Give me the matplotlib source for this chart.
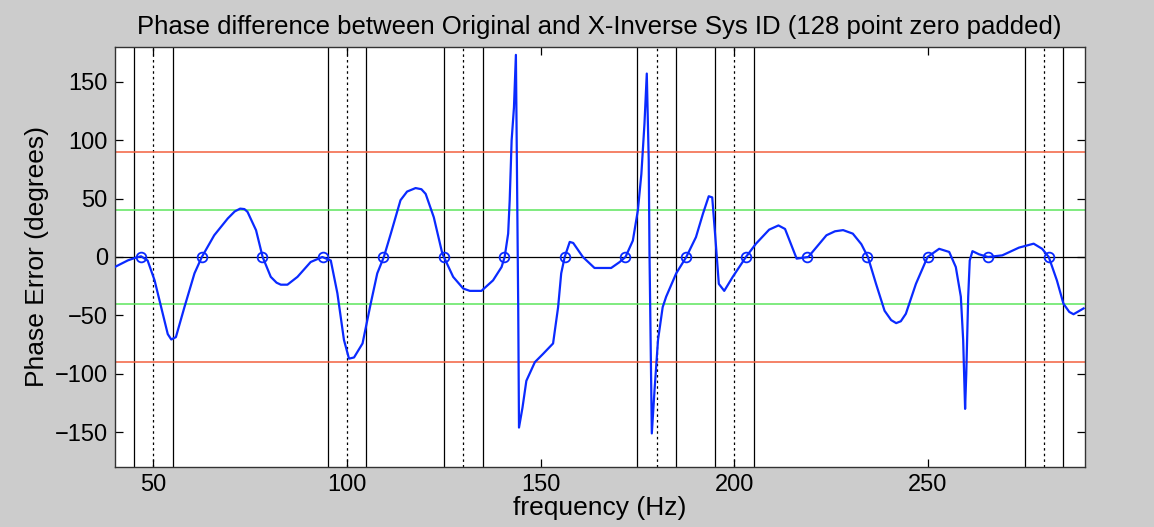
import numpy as np
import matplotlib
matplotlib.use('Agg')
import matplotlib.pyplot as plt

plt.rcParams['font.family'] = ['Liberation Sans', 'DejaVu Sans']

# phase error curve (Hz, degrees)
freq = [40.0, 43.4, 45.5, 46.8, 48.5, 50.3, 52.0, 53.7, 54.6, 55.8, 58.0, 60.6, 62.5, 65.7, 69.2, 71.0, 72.4,
        73.5, 74.3, 76.5, 78.2, 80.3, 81.8, 82.9, 84.6, 87.2, 90.6, 93.6, 95.8, 97.5, 99.2, 100.5, 101.8, 104.0,
        106.1, 107.8, 109.5, 111.3, 113.8, 115.5, 117.7, 119.2, 120.3, 122.4, 124.6, 127.4, 130.0, 131.7, 134.7,
        137.7, 139.9, 140.7, 141.6, 142.0, 142.5, 143.1, 143.6, 143.9, 144.2, 144.4, 145.3, 146.3,
        148.5, 150.6, 153.2, 154.5, 155.3, 156.2, 157.5, 158.4, 160.9, 163.9, 168.2, 170.4, 171.9,
        173.8, 175.1, 176.0, 176.8, 177.4, 177.9, 178.1, 178.4, 178.7, 179.4, 180.3, 181.5, 182.4,
        185.0, 187.6, 190.1, 191.9, 193.4, 194.3, 195.1, 196.0, 197.4, 199.6, 203.0, 205.6, 209.0,
        211.4, 213.1, 216.1, 219.1, 223.8, 226.0, 228.1, 230.6, 232.8, 234.5, 236.6, 238.8, 240.5, 241.8, 243.0,
        244.3, 246.9, 249.9, 252.9, 255.5, 257.2, 258.5, 259.1, 259.6, 259.9, 260.4, 260.8, 261.5, 263.2,
        265.5, 269.2, 273.5, 277.3, 279.5, 281.2, 283.3, 285.0, 286.5, 287.6, 290.2]
phase_err = [-8.6, -2.9, -0.5, 0.6, -3, -20, -43, -66, -70.6, -68.6, -43, -14, 0, 18.6, 33, 39, 41.4,
             41, 38.6, 22.9, 0, -17, -22, -23.7, -23.7, -17, -4.3, 0, -3, -31, -71, -87, -86, -74,
             -40, -14, 0, 20, 48.6, 56, 59, 58, 54, 34, 2.9, -17, -27, -29, -29,
             -20, -8.6, 0, 20, 48.6, 100, 128, 173, 66, -43, -146, -129, -106,
             -90, -83, -74, -43, -14, 0, 12.9, 12, 0, -9.4, -9.4, -4.3, 0,
             14, 40, 71, 114, 157, 83, 3, -71, -151, -114, -71, -43, -34,
             -14, 0, 17, 37, 52, 51, 17, -23, -29, -17, 0, 11.4, 23.4,
             27, 24, -1.4, 0, 18.6, 22, 23, 20, 11, 0, -23, -46, -54, -56.6, -55,
             -48.6, -23, 0, 7, 4.3, -8.6, -34, -71, -130, -100, -34, -3, 5, 2.3,
             0, 1.4, 8, 11.4, 7, 0, -20, -40, -47, -49, -44]

# zero crossing markers (frequency bins)
bin_freqs = [46.875, 62.5, 78.125, 93.75, 109.375, 125.0, 140.625, 156.25, 171.875,
             187.5, 203.125, 218.75, 234.375, 250.0, 265.625, 281.25]

# band centres (dotted) and edges (solid)
band_centres = [50, 100, 130, 180, 200, 280]
band_half = 5

fig = plt.figure(figsize=(11.54, 5.27), dpi=100, facecolor='#cccccc')
ax = fig.add_axes([0.0994, 0.1133, 0.8406, 0.7981])
ax.set_facecolor('white')

for c in band_centres:
    ax.axvline(c - band_half, color='black', lw=0.9, zorder=1)
    ax.axvline(c + band_half, color='black', lw=0.9, zorder=1)
    ax.axvline(c, color='black', lw=0.9, ls=(0, (2, 2.5)), zorder=1)

ax.axhline(0, color='black', lw=0.9, zorder=1)
for lvl in [90, -90]:
    ax.axhline(lvl, color='#f2603e', lw=1.1, zorder=1)
for lvl in [40, -40]:
    ax.axhline(lvl, color='#5ce65c', lw=1.1, zorder=1)

ax.plot(freq, phase_err, color='#0a2aff', lw=1.6, zorder=3)
ax.plot(bin_freqs, np.zeros(len(bin_freqs)), 'o', mfc='none', mec='#0a2aff', ms=7, mew=1.3, zorder=4)

ax.set_xlim(40, 290.5)
ax.set_ylim(-180, 180)
ax.set_xticks([50, 100, 150, 200, 250])
ax.set_yticks([-150, -100, -50, 0, 50, 100, 150])
ax.tick_params(direction='in', length=6, width=0.9, top=True, right=True, labelsize=17, pad=5)
for s in ax.spines.values():
    s.set_linewidth(1.0)
    s.set_color('#333333')

ax.set_xlabel('frequency (Hz)', fontsize=19, labelpad=0)
ax.set_ylabel('Phase Error (degrees)', fontsize=19, labelpad=4)
ax.set_title('Phase difference between Original and X-Inverse Sys ID (128 point zero padded)',
             fontsize=18.5, pad=9)

fig.savefig('out.png', dpi=100, facecolor=fig.get_facecolor())
